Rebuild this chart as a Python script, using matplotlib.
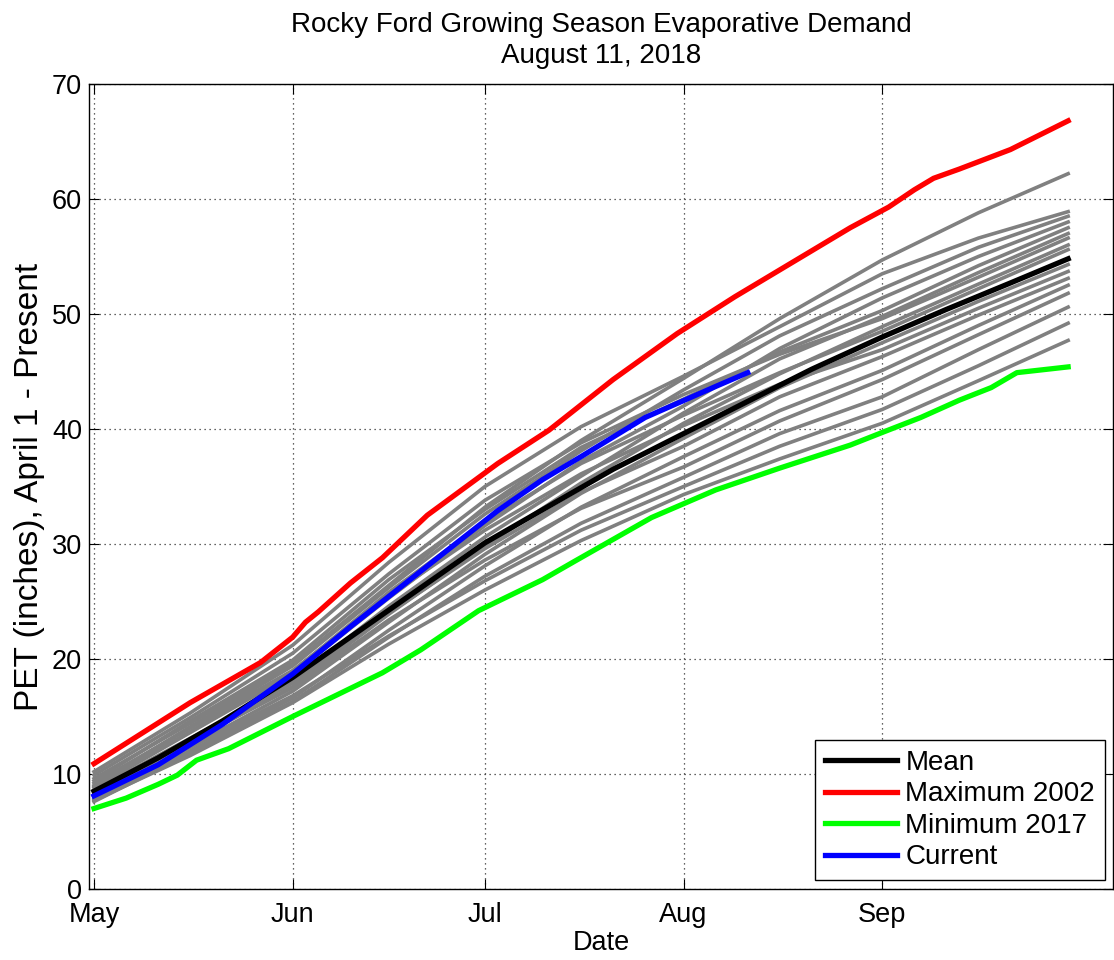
import matplotlib
matplotlib.use("Agg")
import matplotlib.pyplot as plt

plt.rcParams['font.family'] = ['Liberation Sans', 'DejaVu Sans']

# days since May 1
month_ticks = [0, 31, 61, 92, 123]
month_labels = ['May', 'Jun', 'Jul', 'Aug', 'Sep']

# historical years (grey), cumulative PET in inches
gray_days = [0, 15, 31, 46, 61, 76, 92, 107, 123, 138, 152]
gray_pet = [
    [9.6, 14.4, 19.6, 26.4, 33.2, 39.0, 44.4, 49.6, 54.7, 58.8, 62.2],
    [10.2, 15.3, 21.2, 28.4, 35.0, 40.2, 44.6, 48.9, 53.5, 56.6, 58.9],
    [9.0, 14.1, 19.4, 26.2, 32.6, 38.1, 43.4, 48.1, 52.2, 55.8, 58.5],
    [8.8, 13.6, 18.7, 25.3, 31.6, 37.2, 42.0, 47.0, 51.4, 55.0, 58.0],
    [9.4, 14.6, 19.9, 26.9, 33.0, 38.4, 42.6, 46.7, 50.3, 54.2, 57.5],
    [8.4, 13.0, 18.1, 24.6, 30.6, 35.9, 41.4, 46.1, 49.8, 53.6, 57.0],
    [9.9, 14.9, 20.5, 27.4, 33.8, 38.8, 43.0, 46.5, 49.6, 53.2, 56.6],
    [8.2, 12.8, 17.6, 23.9, 29.8, 35.3, 40.5, 44.8, 48.9, 52.6, 56.0],
    [8.9, 13.7, 18.9, 25.8, 31.9, 37.0, 41.2, 44.9, 48.5, 52.2, 55.6],
    [8.0, 12.4, 17.2, 23.2, 29.1, 34.4, 39.2, 43.6, 47.5, 51.1, 54.3],
    [9.2, 14.0, 19.0, 25.5, 31.2, 36.1, 40.3, 43.9, 46.9, 50.5, 53.7],
    [8.6, 13.1, 17.9, 24.0, 29.6, 34.5, 38.5, 42.8, 46.3, 49.9, 53.1],
    [7.8, 12.0, 16.6, 22.5, 28.1, 33.2, 37.6, 41.6, 45.1, 49.0, 52.5],
    [8.5, 12.9, 17.5, 23.4, 28.6, 33.1, 36.7, 40.7, 44.3, 48.2, 51.8],
    [7.6, 11.8, 16.3, 21.9, 27.2, 31.8, 35.8, 39.6, 42.8, 46.9, 50.6],
    [8.1, 12.3, 16.8, 22.0, 26.8, 31.2, 35.0, 38.5, 41.7, 45.5, 49.2],
    [7.7, 11.6, 16.2, 21.3, 26.0, 30.3, 34.3, 37.4, 40.5, 44.2, 47.7],
]

mean_days = [0, 10, 20, 31, 41, 51, 61, 71, 81, 92, 102, 112, 123, 133, 143, 152]
mean_pet = [8.5, 11.4, 14.6, 18.4, 22.3, 26.2, 30.1, 33.3, 36.5, 39.6, 42.4,
            45.2, 48.0, 50.4, 52.7, 54.8]

max_days = [0, 15, 26, 31, 33, 35, 40, 45, 52, 63, 71, 81, 91, 100, 109,
            118, 124, 128, 131, 135, 143, 152]
max_pet = [10.9, 16.2, 19.7, 21.9, 23.2, 24.1, 26.6, 28.8, 32.5, 37.0, 39.9,
           44.3, 48.3, 51.5, 54.5, 57.5, 59.3, 60.8, 61.8, 62.6, 64.3, 66.8]

min_days = [0, 5, 10, 13, 16, 21, 31, 45, 51, 60, 70, 75, 87, 97, 107, 118,
            123, 129, 135, 140, 144, 152]
min_pet = [7.0, 7.9, 9.1, 9.9, 11.2, 12.2, 15.0, 18.8, 20.8, 24.2, 26.9, 28.5,
           32.3, 34.7, 36.6, 38.6, 39.7, 41.0, 42.5, 43.6, 44.9, 45.4]

cur_days = [0, 10, 20, 31, 40, 45, 55, 63, 70, 76, 86, 97, 102]
cur_pet = [8.1, 10.8, 14.3, 18.7, 22.8, 25.0, 29.4, 32.9, 35.6, 37.6, 41.0,
           43.7, 44.9]

fig = plt.figure(figsize=(11.14, 9.6), dpi=100)
ax = fig.add_axes([89 / 1114, 71 / 960, 1024 / 1114, 805 / 960])

for yr in gray_pet:
    ax.plot(gray_days, yr, color='#808080', lw=2.6, zorder=2)

ax.plot(max_days, max_pet, color='#ff0000', lw=3.8, zorder=3, label='Maximum 2002')
ax.plot(min_days, min_pet, color='#00ff00', lw=3.8, zorder=3, label='Minimum 2017')
ax.plot(mean_days, mean_pet, color='k', lw=3.8, zorder=4, label='Mean')
ax.plot(cur_days, cur_pet, color='#0000ff', lw=3.8, zorder=5, label='Current')

ax.set_xlim(-0.78, 159.0)
ax.set_ylim(0, 70)
ax.set_xticks(month_ticks)
ax.set_xticklabels(month_labels)
ax.set_yticks(range(0, 71, 10))
ax.tick_params(direction='in', length=7, width=0.8, labelsize=19.5,
               top=True, right=True)
ax.tick_params(axis='x', pad=9)
ax.tick_params(axis='y', pad=5)
for sp in ax.spines.values():
    sp.set_linewidth(1.0)
ax.grid(True, color='#303030', lw=0.9, linestyle=(0, (1, 3)))

ax.set_xlabel('Date', fontsize=19.5, labelpad=2)
ax.set_ylabel('PET (inches), April 1 - Present', fontsize=24, labelpad=5)
ax.set_title('Rocky Ford Growing Season Evaporative Demand\nAugust 11, 2018',
             fontsize=20, linespacing=1.25, pad=15)

handles, labels = ax.get_legend_handles_labels()
order = [labels.index(n) for n in ['Mean', 'Maximum 2002', 'Minimum 2017', 'Current']]
leg = ax.legend([handles[i] for i in order], [labels[i] for i in order],
                loc='lower right', bbox_to_anchor=(0.992, 0.011), borderaxespad=0,
                fontsize=20, fancybox=False, framealpha=1, edgecolor='k',
                handlelength=2.6, handletextpad=0.3, labelspacing=0.2,
                borderpad=0.35)
leg.get_frame().set_linewidth(1.0)

fig.savefig('out.png', dpi=100)
